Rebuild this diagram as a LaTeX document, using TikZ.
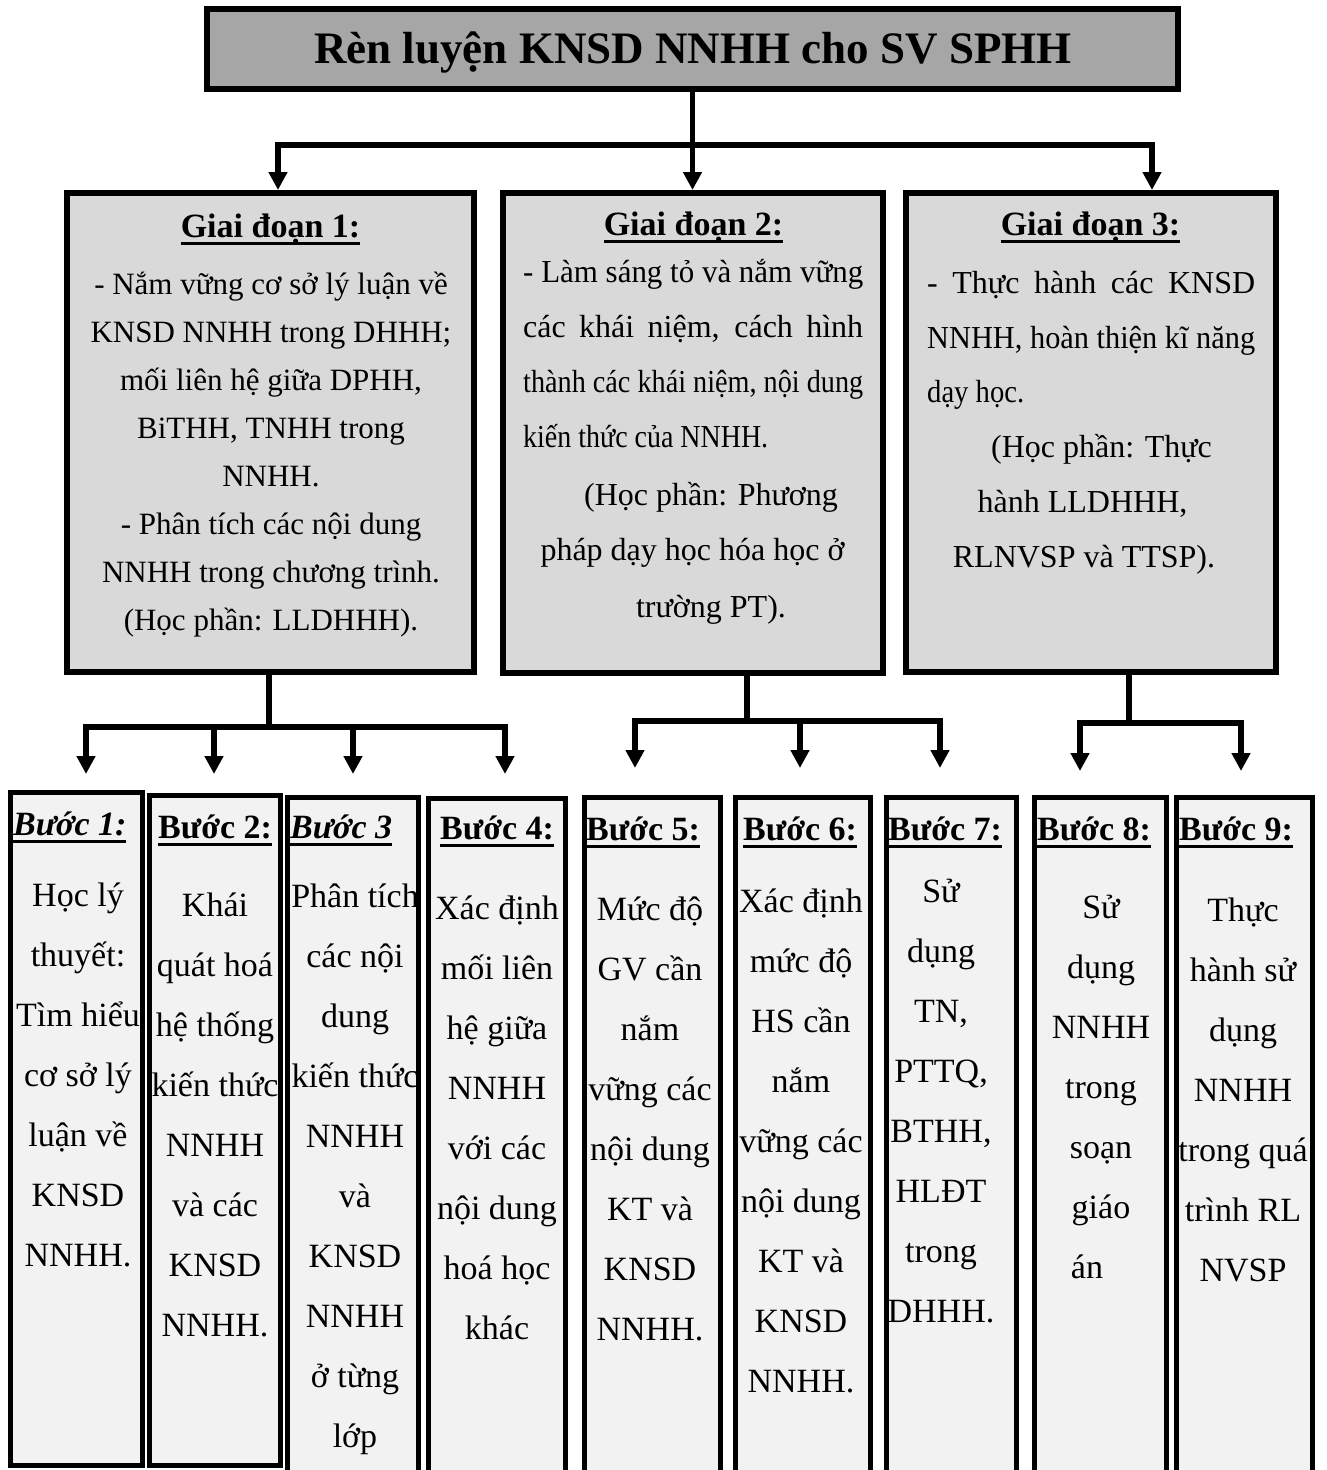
\documentclass[tikz,border=0pt]{standalone}
\usepackage{fontspec}
\usepackage{graphicx}
\setmainfont{Liberation Serif}
\usetikzlibrary{arrows.meta}
\definecolor{titlegray}{HTML}{A6A6A6}
\definecolor{stagegray}{HTML}{D9D9D9}
\definecolor{stepgray}{HTML}{F2F2F2}
\newsavebox\ulbox
\newsavebox\jbox
\newcommand{\uln}[1]{\sbox\ulbox{#1}\rlap{\rule[-8pt]{\wd\ulbox}{3pt}}\usebox\ulbox}
\newcommand{\jline}[2]{\sbox\jbox{#2}\ifdim\wd\jbox>#1\relax\resizebox{#1}{\height}{\usebox\jbox}\else\makebox[#1][s]{#2}\fi}
\newcommand{\squeeze}[2]{\resizebox{#1}{\height}{#2}}
\newcommand{\steplines}[4]{\foreach \stxt [count=\sidx] in {#4}{\node[stt] (#1t\sidx) at (#2,{#3+60*(\sidx-1)}) {\stxt};}}
\begin{document}
\begin{tikzpicture}[x=1pt,y=-1pt,
  titlebox/.style={draw, line width=6pt, fill=titlegray, inner sep=0pt, anchor=north west},
  stagebox/.style={draw, line width=6pt, fill=stagegray, inner sep=0pt, anchor=north west},
  stepbox/.style={draw, line width=5pt, fill=stepgray, inner sep=0pt, anchor=north west},
  conn/.style={line width=5.5pt},
  arr/.style={conn, -{Triangle[length=18pt,width=18pt]}},
  txt/.style={inner sep=0pt, anchor=base},
  ttl/.style={txt, font=\fontsize{45}{54}\selectfont\bfseries},
  ghead/.style={txt, font=\fontsize{34}{40}\selectfont\bfseries},
  gone/.style={txt, font=\fontsize{31}{40}\selectfont},
  gtwo/.style={txt, font=\fontsize{32}{40}\selectfont},
  shead/.style={inner sep=0pt, anchor=base west, font=\fontsize{34}{40}\selectfont\bfseries},
  stt/.style={txt, font=\fontsize{34}{40}\selectfont}]
\useasboundingbox (0,0) rectangle (1326,1470);
\clip (0,0) rectangle (1326,1470);
\fill[white] (0,0) rectangle (1326,1470);

% ---------- boxes ----------
\node[titlebox, minimum width=971pt, minimum height=80pt] (title) at (204,6) {};
\node[stagebox, minimum width=407pt, minimum height=479pt] (g1) at (64,190) {};
\node[stagebox, minimum width=380pt, minimum height=480pt] (g2) at (500,190) {};
\node[stagebox, minimum width=370pt, minimum height=479pt] (g3) at (903,190) {};

\node[stepbox, minimum width=132pt, minimum height=673pt] (s1) at (8,790) {};
\node[stepbox, minimum width=131pt, minimum height=670pt] (s2) at (147,793) {};
\node[stepbox, minimum width=131pt, minimum height=700pt] (s3) at (285,795) {};
\node[stepbox, minimum width=137pt, minimum height=700pt] (s4) at (426,796) {};
\node[stepbox, minimum width=136pt, minimum height=700pt] (s5) at (582,795) {};
\node[stepbox, minimum width=135pt, minimum height=700pt] (s6) at (733,795) {};
\node[stepbox, minimum width=130pt, minimum height=700pt] (s7) at (884,795) {};
\node[stepbox, minimum width=132pt, minimum height=700pt] (s8) at (1032,795) {};
\node[stepbox, minimum width=136pt, minimum height=700pt] (s9) at (1174,795) {};

% ---------- connectors ----------
\coordinate (tb) at (692.5,145);
\draw[arr] (title.south) -- (title.south |- g2.north);
\draw[arr] (tb) -| ([xshift=7.5pt]g1.north);
\draw[arr] (tb) -| ([xshift=61pt]g3.north);

\coordinate (b1) at (269,727);
\coordinate (a11) at (86,774);
\coordinate (a12) at (214,774);
\coordinate (a13) at (353,774);
\coordinate (a14) at (505,774);
\draw[conn] (b1 |- g1.south) -- (b1);
\draw[arr] (b1) -| (a11);
\draw[arr] (b1) -| (a14);
\draw[arr] (a12 |- b1) -- (a12);
\draw[arr] (a13 |- b1) -- (a13);

\coordinate (b2) at (747,721);
\coordinate (a21) at (635,768);
\coordinate (a22) at (800,768);
\coordinate (a23) at (940,768);
\draw[conn] (b2 |- g2.south) -- (b2);
\draw[arr] (b2) -| (a21);
\draw[arr] (b2) -| (a23);
\draw[arr] (a22 |- b2) -- (a22);

\coordinate (b3) at (1129,723);
\coordinate (a31) at (1080,771);
\coordinate (a32) at (1241,771);
\draw[conn] (b3 |- g3.south) -- (b3);
\draw[arr] (b3) -| (a31);
\draw[arr] (b3) -| (a32);

% ---------- title ----------
\node[ttl] (titletext) at (693,63) {Rèn luyện KNSD NNHH cho SV SPHH};

% ---------- stage 1 ----------
\node[ghead] (g1h) at (270.5,237) {\uln{Giai đoạn 1:}};
\node[gone] (g1l1) at (271,294) {- Nắm vững cơ sở lý luận về};
\node[gone] (g1l2) at (271,342) {KNSD NNHH trong DHHH;};
\node[gone] (g1l3) at (271,390) {mối liên hệ giữa DPHH,};
\node[gone] (g1l4) at (271,438) {BiTHH, TNHH trong};
\node[gone] (g1l5) at (271,486) {NNHH.};
\node[gone] (g1l6) at (271,534) {- Phân tích các nội dung};
\node[gone] (g1l7) at (271,582) {NNHH trong chương trình.};
\node[gone] (g1l8) at (271,630) {(Học phần: LLDHHH).};

% ---------- stage 2 ----------
\node[ghead] (g2h) at (693.5,235) {\uln{Giai đoạn 2:}};
\node[gtwo, anchor=base west] (g2l1) at (523,282) {\jline{340pt}{- Làm sáng tỏ và nắm vững}};
\node[gtwo, anchor=base west] (g2l2) at (523,337) {\jline{340pt}{các khái niệm, cách hình}};
\node[gtwo, anchor=base west] (g2l3) at (523,392) {\jline{340pt}{thành các khái niệm, nội dung}};
\node[gtwo, anchor=base west] (g2l4) at (523,447) {\squeeze{245pt}{kiến thức của NNHH.}};
\node[gtwo] (g2l5) at (711,505) {(Học phần: Phương};
\node[gtwo] (g2l6) at (692.5,560) {pháp dạy học hóa học ở};
\node[gtwo] (g2l7) at (711,617) {trường PT).};

% ---------- stage 3 ----------
\node[ghead] (g3h) at (1090.5,235) {\uln{Giai đoạn 3:}};
\node[gtwo, anchor=base west] (g3l1) at (927,293) {\jline{328pt}{- Thực hành các KNSD}};
\node[gtwo, anchor=base west] (g3l2) at (927,348) {\jline{328pt}{NNHH, hoàn thiện kĩ năng}};
\node[gtwo, anchor=base west] (g3l3) at (927,402) {\squeeze{97pt}{dạy học.}};
\node[gtwo] (g3l4) at (1101.5,457) {(Học phần: Thực};
\node[gtwo] (g3l5) at (1082.5,512) {hành LLDHHH,};
\node[gtwo] (g3l6) at (1084,567) {RLNVSP và TTSP).};

% ---------- step headings ----------
\node[shead] (s1h) at (13,835) {\itshape\uln{Bước 1:}};
\node[shead] (s2h) at (158,838) {\uln{Bước 2:}};
\node[shead] (s3h) at (290,838) {\itshape\uln{Bước 3}};
\node[shead] (s4h) at (440,839) {\uln{Bước 4:}};
\node[shead] (s5h) at (586,840) {\uln{Bước 5:}};
\node[shead] (s6h) at (743,840) {\uln{Bước 6:}};
\node[shead] (s7h) at (888,840) {\uln{Bước 7:}};
\node[shead] (s8h) at (1037,840) {\uln{Bước 8:}};
\node[shead] (s9h) at (1179,840) {\uln{Bước 9:}};

% ---------- step texts ----------
\steplines{s1}{78}{906}{Học lý, thuyết:, Tìm hiểu, cơ sở lý, luận về, KNSD, NNHH.}
\steplines{s2}{215}{916}{Khái, quát hoá, hệ thống, kiến thức, NNHH, và các, KNSD, NNHH.}
\steplines{s3}{355}{907}{Phân tích, các nội, dung, kiến thức, NNHH, và, KNSD, NNHH, ở từng, lớp}
\steplines{s4}{497}{919}{Xác định, mối liên, hệ giữa, NNHH, với các, nội dung, hoá học, khác}
\steplines{s5}{650}{920}{Mức độ, GV cần, nắm, vững các, nội dung, KT và, KNSD, NNHH.}
\steplines{s6}{801}{912}{Xác định, mức độ, HS cần, nắm, vững các, nội dung, KT và, KNSD, NNHH.}
\steplines{s7}{941}{902}{Sử, dụng, {TN,}, {PTTQ,}, {BTHH,}, HLĐT, trong, DHHH.}
\steplines{s8}{1101}{918}{Sử, dụng, NNHH, trong, soạn, giáo}
\node[stt] (s8t7) at (1087,1278) {án};
\steplines{s9}{1243}{921}{Thực, hành sử, dụng, NNHH, trong quá, trình RL, NVSP}
\end{tikzpicture}
\end{document}
